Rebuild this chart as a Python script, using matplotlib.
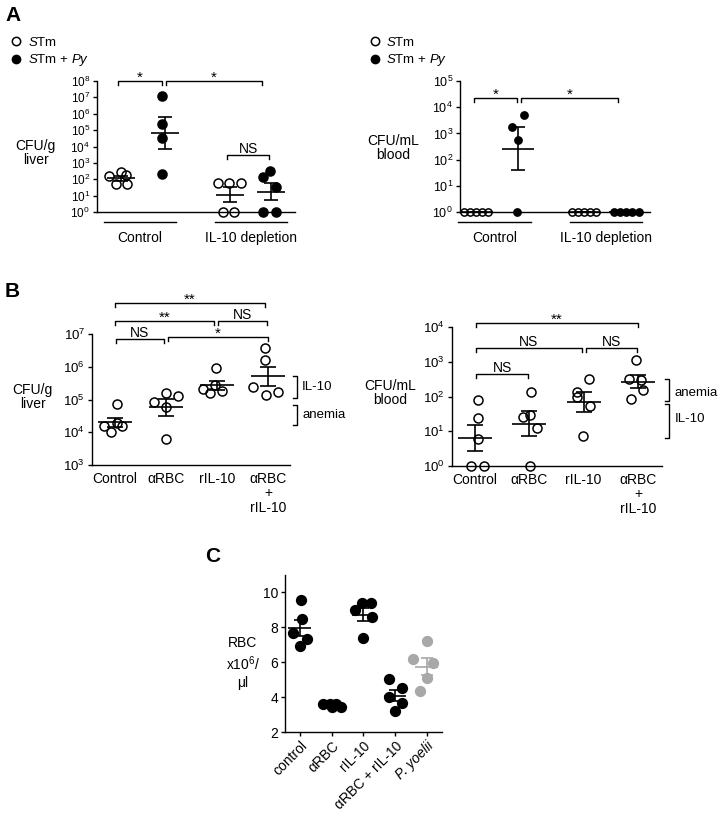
import numpy as np
import matplotlib
matplotlib.use("Agg")
import matplotlib.pyplot as plt
import matplotlib.transforms as mtransforms
from matplotlib.lines import Line2D
from matplotlib.ticker import NullLocator

plt.rcParams['font.family'] = ['Liberation Sans', 'DejaVu Sans']
plt.rcParams['mathtext.fontset'] = 'custom'
plt.rcParams['mathtext.rm'] = 'Liberation Sans'
plt.rcParams['mathtext.it'] = 'Liberation Sans:italic'
plt.rcParams['axes.linewidth'] = 1.0

# ---- data: panel A, liver (CFU/g)
a_liver_ctrl_stm = [160, 290, 170, 51, 52]
a_liver_ctrl_py = [1.3e7, 2.4e5, 3.2e4, 210]
a_liver_il10_stm = [60, 60, 60, 1, 1]
a_liver_il10_py = [130, 330, 33, 1, 1]

# ---- data: panel A, blood (CFU/mL)
a_blood_ctrl_stm = [1, 1, 1, 1, 1]
a_blood_ctrl_py = [1750, 5000, 560, 1]
a_blood_il10_stm = [1, 1, 1, 1, 1]
a_blood_il10_py = [1, 1, 1, 1, 1]

# ---- data: panel B
b_groups = ["Control", "\u03b1RBC", "rIL-10", "\u03b1RBC\n+\nrIL-10"]
b_liver = [
    [72000, 15500, 19000, 10200, 15500],
    [83000, 160000, 130000, 59000, 6200],
    [910000, 210000, 275000, 160000, 180000],
    [3.7e6, 1.6e6, 2.4e5, 1.4e5, 1.7e5],
]
b_blood = [
    [79, 24, 6, 1, 1],
    [135, 26, 30, 12, 1],
    [316, 135, 98, 54, 7.2],
    [1120, 316, 295, 155, 85],
]

# ---- data: panel C (RBC x10^6/ul)
c_groups = ["control", "\u03b1RBC", "rIL-10", "\u03b1RBC + rIL-10", "P. yoelii"]
c_rbc = [
    [9.54, 8.46, 7.66, 7.31, 6.91],
    [3.6, 3.6, 3.6, 3.43, 3.43],
    [8.97, 9.37, 9.37, 8.57, 7.37],
    [5.03, 4.51, 4.0, 3.66, 3.2],
    [7.2, 6.17, 5.94, 5.09, 4.34],
]

# jitter of the dots inside each column (layout only)
a_liver_offs = [[-0.27, 0.0, 0.12, -0.11, 0.14], [-0.07] * 4,
                [-0.28, -0.02, 0.25, -0.17, 0.09], [-0.18, -0.02, 0.11, -0.18, 0.11]]
a_blood_offs = [[-0.32, -0.17, -0.02, 0.13, 0.28], [-0.15, 0.14, 0.0, -0.02],
                [-0.29, -0.15, 0.0, 0.15, 0.29], [-0.27, -0.12, 0.03, 0.18, 0.33]]
b_liver_offs = [[0.04, -0.22, 0.04, -0.08, 0.14], [-0.24, 0.0, 0.24, 0.0, 0.0],
                [-0.02, -0.27, -0.04, -0.14, 0.1], [-0.06, -0.06, -0.29, -0.04, 0.2]]
b_blood_offs = [[0.05, 0.05, 0.05, -0.07, 0.17], [0.04, -0.11, 0.02, 0.15, 0.02],
                [0.09, -0.13, -0.13, 0.11, -0.02], [-0.04, -0.17, 0.05, 0.09, -0.13]]
c_offs = [[0.03, 0.06, -0.22, 0.22, 0.0], [-0.28, -0.06, 0.13, 0.28, 0.0],
          [-0.25, -0.03, 0.25, 0.28, 0.0], [-0.19, 0.22, -0.19, 0.22, 0.0],
          [0.0, -0.44, 0.19, 0.0, -0.22]]

W, H = 720, 819
fig = plt.figure(figsize=(W / 100, H / 100), dpi=100)


def rect(l, t, r, b):
    return [l / W, 1 - b / H, (r - l) / W, (b - t) / H]


def style(ax, size=10):
    for s in ("top", "right"):
        ax.spines[s].set_visible(False)
    ax.tick_params(labelsize=size, width=1, length=3, pad=2)


def group(ax, x, vals, offs, filled=False, log=True, ms=6.5, half=0.3, cap=5, color="k"):
    vals = np.array(vals, float)
    xs = x + np.array(offs)
    ax.plot(xs, vals, "o", ms=ms, mew=1.1, mec=color,
            mfc=color if filled else "none", clip_on=False, zorder=3)
    if log:
        lv = np.log10(vals)
        m = lv.mean()
        se = lv.std(ddof=1) / np.sqrt(len(lv))
        mean = 10 ** m
        err = [[mean - 10 ** (m - se)], [10 ** (m + se) - mean]]
    else:
        mean = vals.mean()
        se = vals.std(ddof=1) / np.sqrt(len(vals))
        err = [[se], [se]]
    ax.hlines(mean, x - half, x + half, color=color, lw=1.2, zorder=4, clip_on=False)
    ax.errorbar([x], [mean], yerr=err, fmt="none", ecolor=color, elinewidth=1.2,
                capsize=cap, capthick=1.2, zorder=4, clip_on=False)


def bracket(ax, x1, x2, ly, text, drop=4, gap=1.5):
    y = 10 ** ly
    px, py = ax.transData.transform((x1, y))
    ylow = ax.transData.inverted().transform((px, py - drop))[1]
    ax.plot([x1, x1, x2, x2], [ylow, y, y, ylow], color="k", lw=1, clip_on=False)
    star = "*" in text
    ax.annotate(text, ((x1 + x2) / 2, y), xytext=(0, -0.5 if star else gap),
                textcoords="offset points", ha="center", va="baseline",
                fontsize=11 if star else 10, annotation_clip=False)


def side(ax, x, ly1, ly2, text, ly_text, d=0.08):
    ax.plot([x - d, x, x, x - d], [10 ** ly1, 10 ** ly1, 10 ** ly2, 10 ** ly2],
            color="k", lw=1, clip_on=False)
    ax.text(x + 0.1, 10 ** ly_text, text, ha="left", va="center", fontsize=9.5)


def log_axis(ax, low, top):
    ax.set_yscale("log")
    ax.set_ylim(10 ** low, 10 ** top)
    ax.set_yticks(10.0 ** np.arange(low, top + 1))
    ax.yaxis.set_minor_locator(NullLocator())


def legend(ax, xfig):
    h = [Line2D([], [], ls="none", marker="o", ms=6, mfc="none", mec="k", mew=1.1),
         Line2D([], [], ls="none", marker="o", ms=6, mfc="k", mec="k")]
    ax.legend(h, [r"$\mathit{S}$Tm", r"$\mathit{S}$Tm + $\mathit{Py}$"], loc="upper left",
              bbox_to_anchor=(xfig, 1 - 36 / H), bbox_transform=fig.transFigure,
              frameon=False, fontsize=9.5, handlelength=1.0, handletextpad=0.4,
              labelspacing=0.25, borderpad=0, borderaxespad=0)


def group_labels(ax, spans, names):
    bt = mtransforms.blended_transform_factory(ax.transData, ax.transAxes)
    for (a, b), n in zip(spans, names):
        ax.plot([a, b], [-0.076, -0.076], transform=bt, color="k", lw=1, clip_on=False)
        ax.text((a + b) / 2, -0.2, n, transform=bt, ha="center", va="center", fontsize=10)


def ylab(ax, text, x, y, spacing=1.0):
    ax.set_ylabel(text, rotation=0, fontsize=10, ha="center", va="center", linespacing=spacing)
    ax.yaxis.set_label_coords(x, y)


# ---------------- A, liver
ax = fig.add_axes(rect(97, 81, 295, 212))
style(ax, 8.5)
pos = [0, 1, 2.48, 3.41]
ax.set_xlim(-0.55, 3.95)
log_axis(ax, 0, 8)
ax.set_xticks([])
for x, v, o, f in zip(pos, [a_liver_ctrl_stm, a_liver_ctrl_py, a_liver_il10_stm, a_liver_il10_py],
                      a_liver_offs, [False, True, False, True]):
    group(ax, x, v, o, filled=f, ms=6.5, half=0.32, cap=5)
bracket(ax, -0.07, 0.93, 8, "*")
bracket(ax, 1.02, 3.2, 8, "*")
bracket(ax, 2.41, 3.36, 3.5, "NS")
group_labels(ax, [(-0.39, 1.25), (2.14, 3.77)], ["Control", "IL-10 depletion"])
ylab(ax, "CFU/g\nliver", -0.31, 0.45)
legend(ax, 9.5 / W)

# ---------------- A, blood
ax = fig.add_axes(rect(460, 81, 650, 212))
style(ax, 9)
pos = [0, 1, 2.61, 3.61]
ax.set_xlim(-0.41, 4.22)
log_axis(ax, 0, 5)
ax.set_xticks([])
for x, v, o, f in zip(pos, [a_blood_ctrl_stm, a_blood_ctrl_py, a_blood_il10_stm, a_blood_il10_py],
                      a_blood_offs, [False, True, False, True]):
    group(ax, x, v, o, filled=f, ms=5.2, half=0.39, cap=5)
bracket(ax, -0.07, 0.98, 4.35, "*")
bracket(ax, 1.07, 3.44, 4.35, "*")
group_labels(ax, [(-0.46, 1.32), (2.27, 4.02)], ["Control", "IL-10 depletion"])
ylab(ax, "CFU/mL\nblood", -0.35, 0.49)
legend(ax, 368 / W)

# ---------------- B, liver
ax = fig.add_axes(rect(92, 334, 290, 465))
style(ax, 9.5)
pos = np.arange(len(b_groups))
ax.set_xlim(-0.45, 3.43)
log_axis(ax, 3, 7)
for x, v, o in zip(pos, b_liver, b_liver_offs):
    group(ax, x, v, o, ms=6.5, half=0.33, cap=6)
ax.set_xticks(pos, b_groups, linespacing=1.05, fontsize=10)
ax.tick_params(axis="x", length=0, pad=5)
bracket(ax, 0, 2.94, 7.95, "**")
bracket(ax, 0, 1.94, 7.4, "**")
bracket(ax, 2.02, 2.98, 7.4, "NS")
bracket(ax, 0.02, 0.96, 6.85, "NS")
bracket(ax, 1.04, 3.0, 6.9, "*")
side(ax, 3.57, 5.72, 5.06, "IL-10", 5.39)
side(ax, 3.57, 4.84, 4.22, "anemia", 4.53)
ylab(ax, "CFU/g\nliver", -0.30, 0.52)

# ---------------- B, blood
ax = fig.add_axes(rect(452, 327, 662, 466))
style(ax, 9.5)
ax.set_xlim(-0.42, 3.44)
log_axis(ax, 0, 4)
for x, v, o in zip(pos, b_blood, b_blood_offs):
    group(ax, x, v, o, ms=6.5, half=0.31, cap=6)
ax.set_xticks(pos, b_groups, linespacing=1.05, fontsize=10)
ax.tick_params(axis="x", length=0, pad=5)
bracket(ax, 0.02, 3.0, 4.12, "**")
bracket(ax, 0.02, 1.97, 3.4, "NS")
bracket(ax, 2.04, 2.98, 3.4, "NS")
bracket(ax, 0.03, 0.97, 2.65, "NS")
side(ax, 3.57, 2.5, 1.87, "anemia", 2.1)
side(ax, 3.57, 1.78, 0.8, "IL-10", 1.35)
ylab(ax, "CFU/mL\nblood", -0.295, 0.525)

# ---------------- C
ax = fig.add_axes(rect(285, 575, 442, 732))
style(ax, 10)
pos = np.arange(len(c_groups))
ax.set_xlim(-0.47, 4.48)
ax.set_ylim(2, 11)
ax.set_yticks([2, 4, 6, 8, 10])
colors = ["k", "k", "k", "k", "#a8a8a8"]
for x, v, o, c in zip(pos, c_rbc, c_offs, colors):
    group(ax, x, v, o, filled=True, log=False, ms=7, half=0.36, cap=4.5, color=c)
ax.set_xticks(pos, c_groups, rotation=45, ha="right", rotation_mode="anchor")
ax.get_xticklabels()[-1].set_style("italic")
ylab(ax, "RBC\nx10$^6$/\n\u03bcl", -0.27, 0.44, spacing=1.3)

# panel letters
for lbl, x, y in [("A", 5, 6), ("B", 5, 282), ("C", 205, 547)]:
    fig.text(x / W, 1 - y / H, lbl, fontsize=15, fontweight="bold", va="top", ha="left")

fig.savefig("out.png", dpi=100)
